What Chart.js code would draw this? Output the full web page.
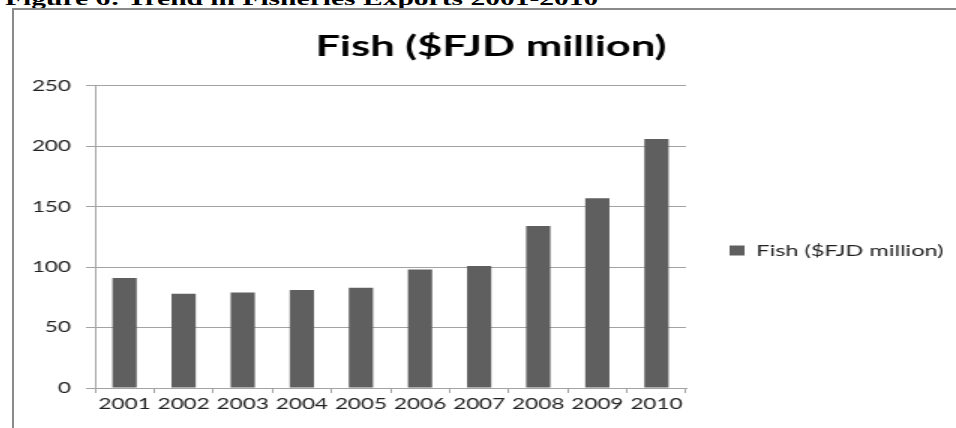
<!DOCTYPE html>
<html>
<head>
<meta charset="utf-8">
<script src="https://cdn.jsdelivr.net/npm/chart.js@4/dist/chart.umd.min.js"></script>
<style>
html, body { margin: 0; padding: 0; background: #fff; width: 956px; height: 428px; overflow: hidden; }
#caption {
    position: absolute; left: 5px; top: -13px; line-height: 20px;
    font: bold 19.7px "Liberation Serif", serif; color: #000; white-space: nowrap;
    transform: scaleX(1.5); transform-origin: 0 0;
}
#frame {
    position: absolute; left: 12px; top: 8px; width: 1000px; height: 500px;
    border-left: 2px solid #8a8a8a; border-top: 2px solid #8a8a8a;
}
#wrap {
    position: absolute; left: 0; top: 0; width: 636px; height: 418px;
    transform: scaleX(1.5); transform-origin: 0 0;
}
</style>
</head>
<body>
<div id="caption">Figure 6: Trend in Fisheries Exports 2001-2010</div>
<div id="frame">
    <div id="wrap"><canvas id="fishChart" width="636" height="418"></canvas></div>
</div>
<script>
const years = ['2001', '2002', '2003', '2004', '2005', '2006', '2007', '2008', '2009', '2010']
const fishExports = [91, 78, 79, 81, 83, 98, 101, 134, 157, 206]
const seriesName = 'Fish ($FJD million)'

const axisGray = '#a3a3a3'

// nudge the legend down from where the layout centres it
const legendOffset = {
    id: 'legendOffset',
    afterLayout(chart) {
        chart.legend.top += 38
        chart.legend.bottom += 38
    }
}

Chart.defaults.font.family = 'Lato'

const fishChart = new Chart(document.getElementById('fishChart'), {
    type: 'bar',
    data: {
        labels: years,
        datasets: [{
            label: seriesName,
            data: fishExports,
            backgroundColor: '#5f5f5f',
            borderWidth: 0,
            categoryPercentage: 1,
            barPercentage: 0.41
        }]
    },
    options: {
        responsive: false,
        animation: false,
        devicePixelRatio: 1,
        layout: { padding: { left: 10, right: 10, top: 0, bottom: 13 } },
        plugins: {
            title: {
                display: true,
                text: seriesName,
                color: '#000',
                font: { size: 29, weight: 'bold' },
                padding: { top: 19, bottom: 22 }
            },
            legend: {
                position: 'right',
                maxWidth: 178,
                labels: {
                    boxWidth: 10,
                    boxHeight: 10,
                    padding: 29,
                    color: '#222',
                    font: { size: 15.7 }
                }
            },
            tooltip: { enabled: false }
        },
        scales: {
            x: {
                grid: { display: true, drawOnChartArea: false, tickLength: 5, color: axisGray },
                border: { color: axisGray },
                ticks: { color: '#222', font: { size: 15 }, padding: 2, maxRotation: 0 }
            },
            y: {
                min: 0,
                max: 250,
                grid: { color: axisGray, tickLength: 6 },
                border: { color: axisGray },
                ticks: { stepSize: 50, color: '#222', font: { size: 15 }, padding: 10 },
                afterFit(scale) { scale.width = 44 }
            }
        }
    },
    plugins: [legendOffset]
})
</script>
</body>
</html>
